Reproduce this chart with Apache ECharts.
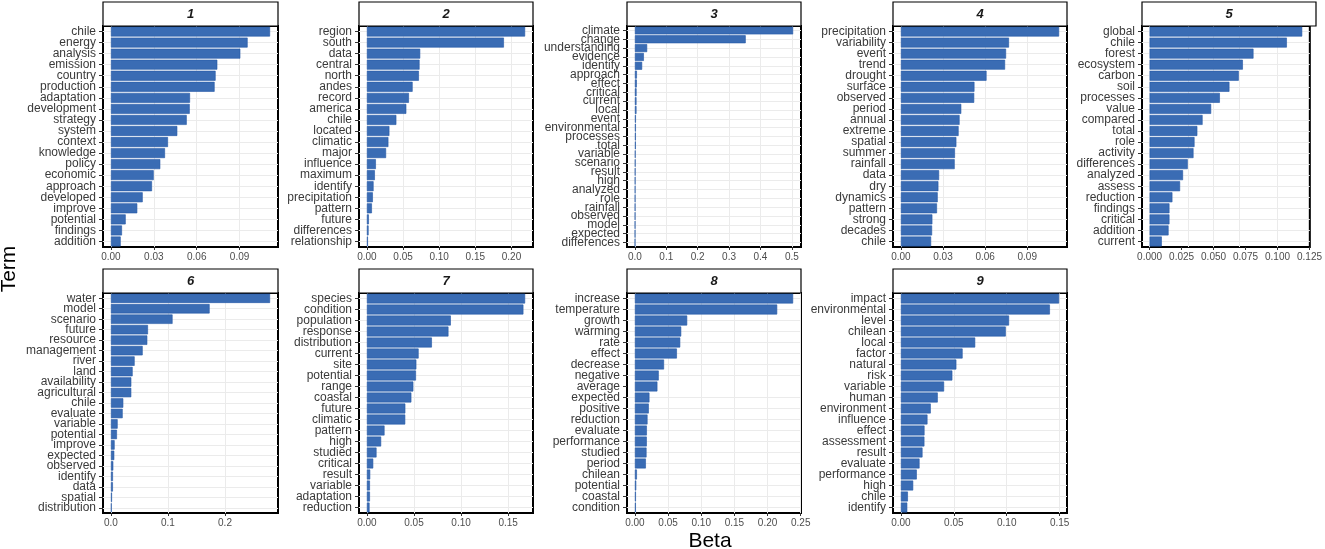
<!DOCTYPE html>
<html>
<head>
<meta charset="utf-8">
<script src="https://cdn.jsdelivr.net/npm/echarts@6/dist/echarts.min.js"></script>
<style>
html,body{margin:0;padding:0;background:#fff;}
#chart{width:1325px;height:549px;}
</style>
</head>
<body>
<div id="chart"></div>
<script>
// ---------- DATA ----------
const topics = ['1','2','3','4','5','6','7','8','9'];

const terms1 = ['chile','energy','analysis','emission','country','production','adaptation','development','strategy','system','context','knowledge','policy','economic','approach','developed','improve','potential','findings','addition'];
const beta1  = [0.1113,0.0956,0.0905,0.0744,0.0732,0.0725,0.0553,0.0551,0.0530,0.0464,0.0399,0.0378,0.0345,0.0299,0.0287,0.0222,0.0184,0.0103,0.0077,0.0068];
const ticks1 = ['0.00','0.03','0.06','0.09'];

const terms2 = ['region','south','data','central','north','andes','record','america','chile','located','climatic','major','influence','maximum','identify','precipitation','pattern','future','differences','relationship'];
const beta2  = [0.2188,0.1895,0.0737,0.0728,0.0719,0.0632,0.0581,0.0545,0.0407,0.0311,0.0297,0.0265,0.0124,0.0110,0.0092,0.0082,0.0069,0.0027,0.0023,0.0014];
const ticks2 = ['0.00','0.05','0.10','0.15','0.20'];

const terms3 = ['climate','change','understanding','evidence','identify','approach','effect','critical','current','local','event','environmental','processes','total','variable','scenario','result','high','analyzed','role','rainfall','observed','model','expected','differences'];
const beta3  = [0.504,0.353,0.039,0.0285,0.023,0.0063,0.006,0.0052,0.005,0.005,0.0031,0.003,0.0029,0.0028,0.002,0.0018,0.0015,0.0013,0.0012,0.0011,0.001,0.0009,0.0008,0.0007,0.0006];
const ticks3 = ['0.0','0.1','0.2','0.3','0.4','0.5'];

const terms4 = ['precipitation','variability','event','trend','drought','surface','observed','period','annual','extreme','spatial','summer','rainfall','data','dry','dynamics','pattern','strong','decades','chile'];
const beta4  = [0.1127,0.0770,0.0749,0.0742,0.0610,0.0524,0.0522,0.0430,0.0418,0.0411,0.0395,0.0385,0.0383,0.0272,0.0267,0.0262,0.0257,0.0224,0.0222,0.0215];
const ticks4 = ['0.00','0.03','0.06','0.09'];

const terms5 = ['global','chile','forest','ecosystem','carbon','soil','processes','value','compared','total','role','activity','differences','analyzed','assess','reduction','findings','critical','addition','current'];
const beta5  = [0.1193,0.1073,0.0812,0.0729,0.0697,0.0624,0.0549,0.0481,0.0414,0.0373,0.0351,0.0343,0.0298,0.0261,0.0238,0.0178,0.0155,0.0155,0.0148,0.0095];
const ticks5 = ['0.000','0.025','0.050','0.075','0.100','0.125'];

const terms6 = ['water','model','scenario','future','resource','management','river','land','availability','agricultural','chile','evaluate','variable','potential','improve','expected','observed','identify','data','spatial','distribution'];
const beta6  = [0.279,0.173,0.108,0.0649,0.0637,0.0556,0.0415,0.038,0.0357,0.0356,0.0216,0.0205,0.0117,0.0105,0.0064,0.0058,0.0041,0.0035,0.0034,0.0018,0.0012];
const ticks6 = ['0.0','0.1','0.2'];

const terms7 = ['species','condition','population','response','distribution','current','site','potential','range','coastal','future','climatic','pattern','high','studied','critical','result','variable','adaptation','reduction'];
const beta7  = [0.168,0.1662,0.0891,0.0866,0.069,0.0549,0.0525,0.0521,0.0493,0.0472,0.0408,0.0407,0.0187,0.0151,0.0102,0.0067,0.0035,0.0032,0.0032,0.0028];
const ticks7 = ['0.00','0.05','0.10','0.15'];

const terms8 = ['increase','temperature','growth','warming','rate','effect','decrease','negative','average','expected','positive','reduction','evaluate','performance','studied','period','chilean','potential','coastal','condition'];
const beta8  = [0.2385,0.2145,0.0788,0.0698,0.0683,0.0633,0.0439,0.0359,0.0339,0.0219,0.0209,0.019,0.018,0.0179,0.0175,0.0165,0.003,0.002,0.0015,0.0014];
const ticks8 = ['0.00','0.05','0.10','0.15','0.20','0.25'];

const terms9 = ['impact','environmental','level','chilean','local','factor','natural','risk','variable','human','environment','influence','effect','assessment','result','evaluate','performance','high','chile','identify'];
const beta9  = [0.1495,0.1408,0.1022,0.0991,0.0702,0.0583,0.0524,0.0486,0.0408,0.0348,0.0282,0.0251,0.0223,0.0222,0.0204,0.0176,0.015,0.0116,0.0066,0.006];
const ticks9 = ['0.00','0.05','0.10','0.15'];

const allTerms = [terms1,terms2,terms3,terms4,terms5,terms6,terms7,terms8,terms9];
const allBeta  = [beta1,beta2,beta3,beta4,beta5,beta6,beta7,beta8,beta9];
const allTicks = [ticks1,ticks2,ticks3,ticks4,ticks5,ticks6,ticks7,ticks8,ticks9];

// ---------- LAYOUT ----------
const colLeft  = [103, 359, 627, 893, 1142];
const colWidth = [175, 174, 174, 174, 174];
const rowTop   = [26, 293];
const rowH     = [221, 220];
const stripH   = 24;

const FONT = '"Liberation Sans", Arial, Helvetica, sans-serif';
const BAR_FILL = '#3a6cb4';
const BAR_EDGE = '#2357a6';
const GRID_COL = '#ebebeb';

const grids = [], xAxes = [], yAxes = [], series = [], graphics = [];

for (let p = 0; p < 9; p++) {
  const r = p < 5 ? 0 : 1;
  const c = p < 5 ? p : p - 5;
  const left = colLeft[c], width = colWidth[c], top = rowTop[r], height = rowH[r];
  const terms = allTerms[p], beta = allBeta[p], tickLabels = allTicks[p];
  const tickVals = tickLabels.map(Number);
  const M = Math.max(...beta);
  const decimals = tickLabels[0].split('.')[1].length;

  grids.push({left: left, top: top, width: width, height: height, show: true, z: 0,
    borderColor: '#000', borderWidth: 2, backgroundColor: '#fff'});

  xAxes.push({
    type: 'value', gridIndex: p, min: -0.05 * M, max: 1.05 * M, position: 'bottom',
    axisLine: {show: false, onZero: false},
    splitLine: {show: false},
    axisTick: {show: true, customValues: tickVals, length: 3, lineStyle: {color: '#333', width: 1}},
    axisLabel: {show: true, customValues: tickVals, margin: 5, color: '#4d4d4d', fontSize: 10, fontFamily: FONT,
      formatter: v => Number(v).toFixed(decimals)}
  });

  yAxes.push({
    type: 'category', gridIndex: p, data: terms, inverse: true, position: 'left',
    axisLine: {show: false, onZero: false},
    splitLine: {show: false},
    axisTick: {show: true, alignWithLabel: true, interval: 0, length: 4, lineStyle: {color: '#333', width: 1}},
    axisLabel: {show: true, interval: 0, margin: 7, color: '#3a3a3a', fontSize: 12, fontFamily: FONT}
  });

  // gridlines through the axes' own scales
  series.push({
    type: 'line', xAxisIndex: p, yAxisIndex: p, data: [], z: 1, silent: true,
    markLine: {
      z: 1, silent: true, symbol: ['none', 'none'], label: {show: false}, animation: false,
      lineStyle: {color: GRID_COL, width: 1, type: 'solid'},
      emphasis: {disabled: true},
      data: tickVals.filter(v => v <= 1.05 * M).map(v => ({xAxis: v}))
        .concat(terms.map(t => ({yAxis: t})))
    }
  });

  series.push({
    type: 'bar', xAxisIndex: p, yAxisIndex: p, data: beta, z: 3,
    barCategoryGap: '10%',
    itemStyle: {color: BAR_FILL, borderColor: BAR_EDGE, borderWidth: 0.6},
    emphasis: {disabled: true}
  });

  // facet strip
  graphics.push({
    type: 'rect', z: 10,
    shape: {x: left, y: top - stripH, width: width, height: stripH},
    style: {fill: '#fff', stroke: '#000', lineWidth: 1.2}
  });
  graphics.push({
    type: 'text', z: 11,
    x: left + width / 2, y: top - stripH / 2,
    style: {text: topics[p], fill: '#1a1a1a', font: 'italic bold 13px ' + FONT,
      textAlign: 'center', textVerticalAlign: 'middle'}
  });
}

// axis titles
graphics.push({
  type: 'text', x: 9, y: 269, rotation: Math.PI / 2,
  style: {text: 'Term', fill: '#000', font: '21px ' + FONT, textAlign: 'center', textVerticalAlign: 'middle'}
});
graphics.push({
  type: 'text', x: 710, y: 541,
  style: {text: 'Beta', fill: '#000', font: '21px ' + FONT, textAlign: 'center', textVerticalAlign: 'middle'}
});

const chart = echarts.init(document.getElementById('chart'), null, {renderer: 'canvas'});
chart.setOption({
  animation: false,
  backgroundColor: '#fff',
  grid: grids,
  xAxis: xAxes,
  yAxis: yAxes,
  series: series,
  graphic: graphics
});
</script>
</body>
</html>
